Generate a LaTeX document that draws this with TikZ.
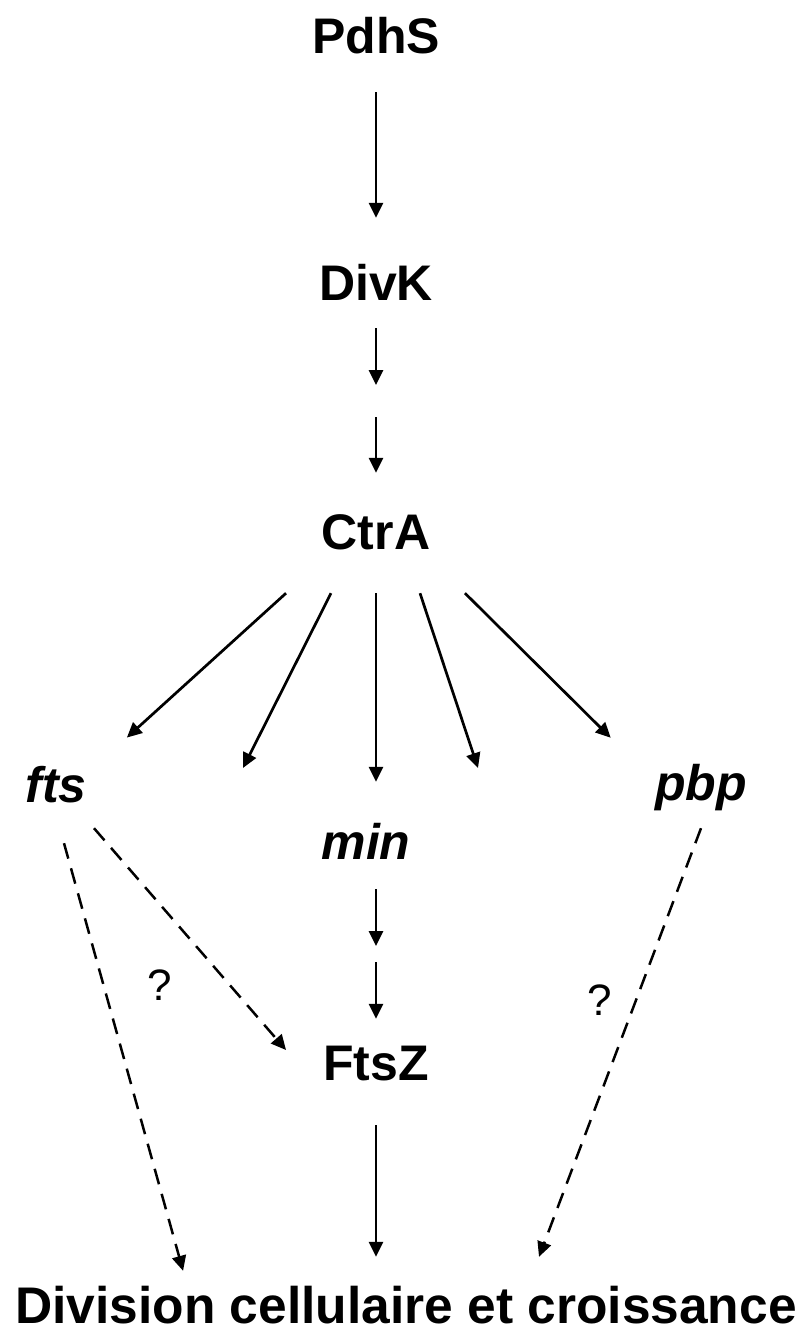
\documentclass[tikz,border=0pt]{standalone}
\usepackage{fontspec}
\setmainfont{Liberation Sans}
\usetikzlibrary{arrows.meta, positioning, calc}

\begin{document}
\begin{tikzpicture}[
    x=1pt, y=-1pt,
    prot/.style={inner sep=0pt, anchor=base, text height=36pt, text depth=0pt, font=\fontsize{50}{60}\selectfont\bfseries},
    gene/.style={prot, font=\fontsize{50}{60}\selectfont\bfseries\itshape},
    outcome/.style={prot, font=\fontsize{51.5}{62}\selectfont\bfseries},
    qmark/.style={inner sep=0pt, font=\fontsize{44}{52}\selectfont},
    line/.style={draw=black, line width=2.7pt, -{Triangle[length=15pt, width=14pt]}},
    dline/.style={line, line width=2.5pt, dash pattern=on 16pt off 10pt}
]
    \useasboundingbox (0,0) rectangle (805,1338);

    % Signalling cascade
    \node [prot] (pdhs) at (376,53) {PdhS};
    \node [prot] (divk) at (376,300) {DivK};
    \node [prot] (ctra) at (376,549) {CtrA};

    % CtrA targets
    \node [gene] (fts) at (56,802) {fts};
    \node [gene] (min) at (366,859) {min};
    \node [gene] (pbp) at (701,800) {pbp};
    \node [prot] (ftsz) at (376,1080) {FtsZ};

    % Outcome
    \node [outcome] (div) at (406,1323) {Division cellulaire et croissance};

    % Unknown links
    \node [qmark] (q1) at (160,985) {?};
    \node [qmark] (q2) at (600,1000) {?};

    % Intermediate steps and open ends
    \coordinate (kc) at (376,401);
    \coordinate (mc) at (376,954);
    \coordinate (g2) at (243,768);
    \coordinate (g4) at (478,768);

    % Connections
    \path [line, shorten <=39pt, shorten >=46pt] (pdhs) -- (divk);
    \path [line, shorten <=28pt, shorten >=16pt] (divk) -- (kc);
    \path [line, shorten <=16pt, shorten >=40pt] (kc) -- (ctra);

    \path [line, shorten >=42pt] ([xshift=-90pt, yshift=-44pt]ctra.south) -- ([xshift=9pt]fts.north east);
    \path [line] ([xshift=-45pt, yshift=-44pt]ctra.south) -- (g2);
    \path [line, shorten <=44pt, shorten >=41pt] (ctra.south) -- (ctra.south |- min.north);
    \path [line] ([xshift=44pt, yshift=-44pt]ctra.south) -- (g4);
    \path [line, shorten >=37pt] ([xshift=89pt, yshift=-44pt]ctra.south) -- ([xshift=-18pt]pbp.north west);

    \path [line, shorten <=30pt, shorten >=8pt] (min.south -| mc) -- (mc);
    \path [line, shorten <=8pt, shorten >=25pt] (mc) -- (ftsz);
    \path [line, shorten <=45pt, shorten >=30pt] (ftsz.south) -- (ftsz.south |- div.north);

    \path [dline] ([shift={(8pt,-41pt)}]fts.south) -- ([shift={(168pt,16pt)}]div.north west);
    \path [dline] ([shift={(38pt,-26pt)}]fts.south) -- ([shift={(-37pt,12pt)}]ftsz.west);
    \path [dline] ([yshift=-28pt]pbp.south) -- ([shift={(133pt,30pt)}]div.north);

\end{tikzpicture}
\end{document}
